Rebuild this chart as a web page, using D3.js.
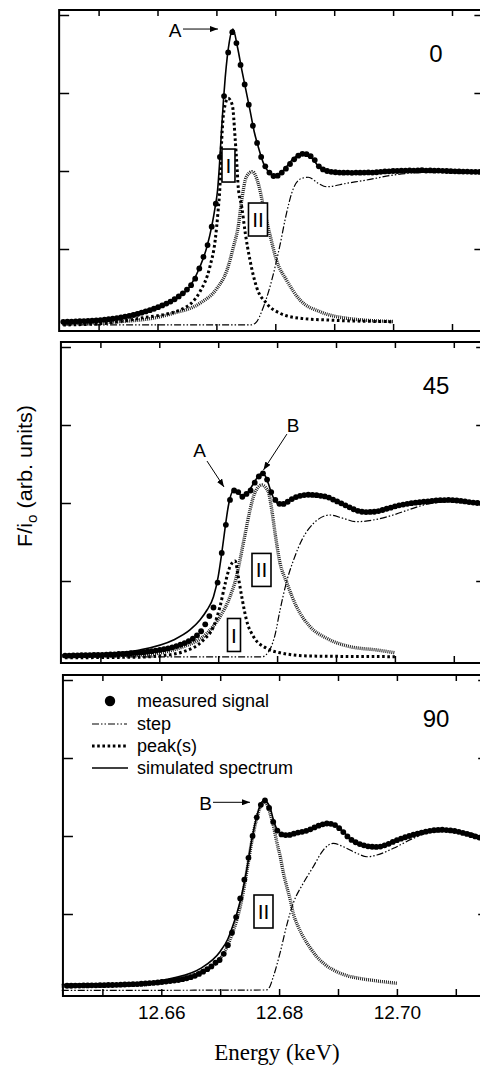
<!DOCTYPE html>
<html><head><meta charset="utf-8">
<script src="https://cdn.jsdelivr.net/npm/d3@7"></script>
<style>body{margin:0;background:#fff}svg{display:block}</style>
</head><body>
<svg id="chart" width="480" height="1065"></svg>
<script>
// ---------------- DATA ----------------
const energyStart = 12.644, energyStep = 0.0007;   // measured sampling grid (keV)
const xTickValues = [12.65, 12.66, 12.67, 12.68, 12.69, 12.70, 12.71];
const xTickLabels = [12.66, 12.68, 12.70];
const yTickValues = [0.5, 1.0, 1.5, 2.0];
const angleLabels = ["0", "45", "90"];
const legendLabels = ["measured signal", "step", "peak(s)", "simulated spectrum"];

const measured0 = [0.033,0.034,0.035,0.036,0.037,0.038,0.039,0.040,0.042,0.044,
 0.047,0.050,0.053,0.057,0.061,0.066,0.071,0.077,0.084,0.092,
 0.100,0.108,0.117,0.127,0.138,0.150,0.163,0.178,0.196,0.216,
 0.240,0.268,0.31,0.375,0.45,0.525,0.643,0.79,1.09,1.48,
 1.76,1.89,1.82,1.68,1.555,1.425,1.29,1.18,1.09,1.03,
 0.99,0.968,0.97,0.99,1.015,1.045,1.075,1.098,1.11,1.108,
 1.095,1.07,1.03,1.01,1.0,0.995,0.992,0.99,0.989,0.99,
 0.988,0.99,0.989,0.99,0.991,0.99,0.992,0.995,0.997,0.998,
 1.0,1.0,1.002,1.003,1.004,1.003,1.004,1.005,1.003,1.004,
 1.002,1.003,1.001,1.0,0.999,0.998,0.997,0.996,0.996,0.995,
 0.995,0.994,0.995];
const measured45 = [0.022,0.022,0.023,0.023,0.024,0.024,0.025,0.026,0.026,0.027,
 0.028,0.029,0.030,0.032,0.033,0.035,0.037,0.039,0.041,0.044,
 0.047,0.050,0.054,0.058,0.063,0.068,0.075,0.083,0.092,0.102,
 0.115,0.13,0.152,0.178,0.222,0.275,0.33,0.49,0.68,0.86,
 1.02,1.08,1.07,1.04,1.058,1.08,1.13,1.17,1.19,1.15,
 1.07,1.02,0.995,0.994,1.008,1.025,1.038,1.046,1.051,1.053,
 1.052,1.05,1.046,1.042,1.035,1.022,1.01,0.998,0.985,0.972,
 0.96,0.95,0.944,0.942,0.943,0.944,0.948,0.955,0.963,0.97,
 0.978,0.985,0.99,0.995,0.999,1.002,1.005,1.008,1.01,1.013,
 1.016,1.018,1.019,1.02,1.018,1.016,1.013,1.01,1.006,1.003,
 1.0,0.997,0.994];
const measured90 = [0.040,0.040,0.041,0.041,0.042,0.042,0.043,0.043,0.044,0.044,
 0.045,0.045,0.046,0.047,0.048,0.049,0.050,0.051,0.053,0.055,
 0.057,0.059,0.061,0.064,0.067,0.070,0.073,0.077,0.082,0.088,
 0.095,0.104,0.116,0.13,0.146,0.164,0.188,0.205,0.245,0.30,
 0.38,0.48,0.60,0.72,0.86,1.0,1.12,1.2,1.228,1.18,
 1.09,1.035,1.01,1.006,1.007,1.015,1.022,1.027,1.033,1.043,
 1.055,1.066,1.075,1.08,1.078,1.07,1.05,1.025,0.997,0.975,
 0.96,0.948,0.94,0.934,0.931,0.93,0.932,0.94,0.95,0.962,
 0.973,0.983,0.992,1.0,1.008,1.015,1.022,1.028,1.033,1.037,
 1.039,1.04,1.038,1.036,1.032,1.027,1.02,1.013,1.005,0.997,
 0.99,0.984,0.978];

// simulated spectra [energy, value]
const sim0 = [[12.6440,0.034],[12.6502,0.045],[12.6570,0.098],[12.6626,0.175],[12.6655,0.26],[12.6672,0.385],[12.6684,0.515],[12.6692,0.643],[12.6698,0.771],[12.6702,0.878],[12.6705,1.028],[12.6708,1.218],[12.6712,1.455],[12.6715,1.6],[12.6722,1.83],[12.6728,1.91],[12.6736,1.79],[12.6743,1.65],[12.6750,1.52],[12.6757,1.39],[12.6764,1.255],[12.6771,1.156],[12.6780,1.049],[12.6788,0.996],[12.6800,0.963],[12.6814,1.006],[12.6831,1.081],[12.6848,1.113],[12.6865,1.071],[12.6876,1.017],[12.6893,0.996],[12.6927,0.99],[12.6956,0.989],[12.7012,1.0],[12.7068,1.003],[12.7154,0.996]];
const sim45 = [[12.6435,0.026],[12.6499,0.032],[12.6567,0.058],[12.6624,0.122],[12.6652,0.186],[12.6669,0.25],[12.6681,0.314],[12.6692,0.399],[12.6700,0.528],[12.6706,0.678],[12.6712,0.848],[12.6717,0.976],[12.6720,1.03],[12.6727,1.083],[12.6734,1.071],[12.6740,1.04],[12.6746,1.061],[12.6751,1.072],[12.6760,1.126],[12.6767,1.167],[12.6774,1.19],[12.6780,1.173],[12.6785,1.126],[12.6791,1.058],[12.6796,1.019],[12.6803,0.994],[12.6811,0.994],[12.6819,1.01],[12.6828,1.03],[12.6845,1.051],[12.6864,1.051],[12.6884,1.04],[12.6898,1.019],[12.6912,0.994],[12.6927,0.968],[12.6941,0.944],[12.6958,0.944],[12.6969,0.944],[12.6986,0.966],[12.7009,0.984],[12.7031,0.998],[12.7054,1.008],[12.7077,1.019],[12.7094,1.019],[12.7119,1.01],[12.7154,0.994]];
const sim90 = [[12.6431,0.048],[12.6496,0.051],[12.6564,0.058],[12.6620,0.09],[12.6666,0.15],[12.6700,0.26],[12.6713,0.34],[12.6720,0.41],[12.6728,0.50],[12.6737,0.63],[12.6745,0.782],[12.67535,0.974],[12.6762,1.124],[12.6771,1.22],[12.6775,1.228],[12.6780,1.215],[12.6785,1.179],[12.6790,1.109],[12.6796,1.045],[12.6802,1.019],[12.6813,1.006],[12.6827,1.017],[12.6841,1.028],[12.6861,1.061],[12.6881,1.081],[12.6898,1.064],[12.6909,1.028],[12.6920,0.985],[12.6932,0.958],[12.6943,0.942],[12.6966,0.931],[12.6980,0.946],[12.6994,0.963],[12.7010,0.984],[12.7028,1.006],[12.7048,1.026],[12.7068,1.038],[12.7087,1.038],[12.7107,1.028],[12.7124,1.01],[12.7148,0.981]];

// fitted peaks
const peakI0 = [[12.6440,0.013],[12.6500,0.02],[12.6570,0.056],[12.6638,0.109],[12.6672,0.226],[12.6689,0.387],[12.6698,0.558],[12.6703,0.75],[12.6706,0.9],[12.6709,1.199],[12.6713,1.391],[12.6720,1.466],[12.6727,1.423],[12.6732,1.199],[12.6735,1.028],[12.6737,0.9],[12.6743,0.771],[12.6749,0.603],[12.6757,0.429],[12.6768,0.258],[12.6785,0.152],[12.6808,0.088],[12.6842,0.056],[12.6887,0.045],[12.7000,0.034]];
const peakII0 = [[12.6440,0.02],[12.6570,0.045],[12.6627,0.088],[12.6672,0.152],[12.6701,0.248],[12.6718,0.365],[12.6729,0.515],[12.6737,0.643],[12.6743,0.814],[12.6751,0.963],[12.6761,0.996],[12.6771,0.921],[12.6780,0.771],[12.6791,0.59],[12.6802,0.429],[12.6819,0.301],[12.6842,0.173],[12.6876,0.098],[12.6921,0.056],[12.7000,0.035]];
const peakI45 = [[12.6440,0.008],[12.6567,0.012],[12.6596,0.018],[12.6641,0.047],[12.6675,0.122],[12.6692,0.207],[12.6703,0.335],[12.6712,0.485],[12.6720,0.592],[12.6729,0.628],[12.6734,0.528],[12.6740,0.399],[12.6748,0.25],[12.6760,0.143],[12.6782,0.069],[12.6805,0.04],[12.6856,0.019],[12.7000,0.015]];
const peakII45 = [[12.6440,0.019],[12.6567,0.026],[12.6641,0.079],[12.6681,0.165],[12.6703,0.271],[12.6720,0.399],[12.6731,0.528],[12.6737,0.635],[12.6746,0.806],[12.6754,0.955],[12.6763,1.072],[12.6774,1.115],[12.6785,1.072],[12.6791,0.955],[12.6797,0.795],[12.6805,0.615],[12.6816,0.494],[12.6833,0.335],[12.6856,0.207],[12.6884,0.133],[12.6924,0.079],[12.6969,0.058],[12.7000,0.04]];
const peakII90 = [[12.6431,0.038],[12.6564,0.045],[12.6620,0.077],[12.6666,0.128],[12.6700,0.215],[12.6713,0.30],[12.6720,0.37],[12.6728,0.46],[12.6737,0.60],[12.6745,0.769],[12.67535,0.962],[12.6762,1.112],[12.6771,1.208],[12.6775,1.218],[12.6780,1.199],[12.6785,1.141],[12.6790,1.071],[12.6796,0.962],[12.6802,0.867],[12.6807,0.769],[12.6813,0.675],[12.6819,0.59],[12.6824,0.504],[12.6832,0.423],[12.6841,0.354],[12.6853,0.282],[12.6864,0.226],[12.6878,0.176],[12.6898,0.13],[12.6917,0.103],[12.6937,0.087],[12.6966,0.071],[12.7000,0.056]];

// edge steps
const step0 = [[12.6438,0.013],[12.6757,0.013],[12.6766,0.024],[12.6780,0.13],[12.6797,0.344],[12.6808,0.526],[12.6819,0.729],[12.6831,0.891],[12.6845,0.953],[12.6856,0.96],[12.6873,0.921],[12.6887,0.899],[12.6921,0.921],[12.6955,0.942],[12.7000,0.974],[12.7046,0.99],[12.7154,0.996]];
const step45 = [[12.6435,0.013],[12.6774,0.013],[12.6781,0.026],[12.6790,0.079],[12.6796,0.147],[12.6805,0.314],[12.6816,0.494],[12.6828,0.635],[12.6842,0.763],[12.6862,0.87],[12.6890,0.923],[12.6912,0.902],[12.6935,0.88],[12.6963,0.891],[12.6997,0.923],[12.7026,0.96],[12.7054,0.992],[12.7094,1.008],[12.7151,0.998]];
const step90 = [[12.6431,0.01],[12.6778,0.013],[12.6783,0.026],[12.6790,0.096],[12.6802,0.256],[12.6813,0.429],[12.6824,0.569],[12.6841,0.697],[12.6858,0.803],[12.6875,0.91],[12.6892,0.953],[12.6909,0.931],[12.6932,0.889],[12.6949,0.867],[12.6966,0.878],[12.6994,0.921],[12.7028,0.985],[12.7062,1.028],[12.7107,1.028],[12.7148,0.99]];

// annotations: label, text position [E, v], arrow from [E,v] to [E,v]
const arrows0 = [{t:"A", at:[12.66297,1.859], from:[12.66433,1.91], to:[12.67027,1.91]}];
const arrows45 = [{t:"A", at:[12.66683,1.295], from:[12.6681,1.269], to:[12.67098,1.103]},
                  {t:"B", at:[12.6827,1.455], from:[12.68167,1.442], to:[12.67769,1.212]}];
const arrows90 = [{t:"B", at:[12.6675,1.167], from:[12.66878,1.216], to:[12.67506,1.216]}];
// peak identifier boxes: [label, E, v]
const boxes0 = [["I",12.67205,1.035],["II",12.67706,0.689]];
const boxes45 = [["II",12.67735,0.571],["I",12.67268,0.154]];
const boxes90 = [["II",12.67735,0.516]];

// ---------------- LAYOUT ----------------
const svg = d3.select("#chart");
const FONT = "'Liberation Sans', Arial, Helvetica, sans-serif";
const defs = svg.append("defs");
defs.append("marker").attr("id","ah").attr("viewBox","0 0 8 6").attr("refX",8).attr("refY",3)
  .attr("markerWidth",8).attr("markerHeight",6).attr("markerUnits","userSpaceOnUse").attr("orient","auto")
  .append("path").attr("d","M0,0L8,3L0,6Z").attr("fill","#000");

const panelTops = [10, 342, 675];
const tick1266 = [157.5, 159.3, 161.3];
const pxPerKeV = 5890;
const xDomain = [12.6433, 12.7155];
const H = 321;

const styles = {
  step: {w:1.2, dash:"7,2,1.5,2,1.5,2"},
  heavy: {w:3, dash:"2.6,2.6"},
  fine: {w:3.4, dash:"1,1"}
};

const panels = [
  {meas:measured0, sim:sim0, step:step0, peaks:[[peakII0,"fine"],[peakI0,"heavy"]], arrows:arrows0, boxes:boxes0},
  {meas:measured45, sim:sim45, step:step45, peaks:[[peakII45,"fine"],[peakI45,"heavy"]], arrows:arrows45, boxes:boxes45},
  {meas:measured90, sim:sim90, step:step90, peaks:[[peakII90,"fine"]], arrows:arrows90, boxes:boxes90}
];

panels.forEach((p, i) => {
  const top = panelTops[i];
  const x = d3.scaleLinear().domain(xDomain)
    .range([tick1266[i] - (12.66 - xDomain[0]) * pxPerKeV, tick1266[i] + (xDomain[1] - 12.66) * pxPerKeV]);
  const y = d3.scaleLinear().domain([0, 2]).range([top + 317, top + 5]);
  const g = svg.append("g");
  const line = d3.line().x(d => x(d[0])).y(d => y(d[1])).curve(d3.curveMonotoneX);

  // step
  g.append("path").datum(p.step).attr("d", line).attr("fill","none").attr("stroke","#000")
    .attr("stroke-width", styles.step.w).attr("stroke-dasharray", styles.step.dash);
  // peaks
  p.peaks.forEach(([d, s]) => {
    g.append("path").datum(d).attr("d", line).attr("fill","none").attr("stroke", s === "fine" ? "#222" : "#000")
      .attr("stroke-width", styles[s].w).attr("stroke-dasharray", styles[s].dash);
  });
  // simulated
  g.append("path").datum(p.sim).attr("d", line).attr("fill","none").attr("stroke","#000").attr("stroke-width",1.6);
  // measured
  g.append("g").selectAll("circle").data(p.meas).join("circle")
    .attr("cx", (d, k) => x(energyStart + k * energyStep)).attr("cy", d => y(d)).attr("r", 2.9).attr("fill","#000");

  // boxes
  p.boxes.forEach(([t, e, v]) => {
    const w = t === "I" ? 13 : 19, h = 33;
    g.append("rect").attr("x", x(e) - w/2).attr("y", y(v) - h/2).attr("width", w).attr("height", h)
      .attr("fill","#fff").attr("stroke","#000").attr("stroke-width",1.6);
    g.append("text").attr("x", x(e)).attr("y", y(v)).attr("dy","0.36em").attr("text-anchor","middle")
      .attr("font-family", FONT).attr("font-size", 21).text(t);
  });

  // arrows
  p.arrows.forEach(a => {
    g.append("line").attr("x1", x(a.from[0])).attr("y1", y(a.from[1])).attr("x2", x(a.to[0])).attr("y2", y(a.to[1]))
      .attr("stroke","#000").attr("stroke-width",1).attr("marker-end","url(#ah)");
    g.append("text").attr("x", x(a.at[0])).attr("y", y(a.at[1])).attr("text-anchor","middle")
      .attr("font-family", FONT).attr("font-size", 19).text(a.t);
  });

  // angle label
  g.append("text").attr("x", 436).attr("y", top + 52).attr("text-anchor","middle")
    .attr("font-family", FONT).attr("font-size", 24).text(angleLabels[i]);

  // axes (inward ticks)
  const x0 = x.range()[0], x1 = x.range()[1];
  const styleAxis = sel => { sel.select(".domain").remove(); sel.selectAll(".tick line").attr("stroke","#000").attr("stroke-width",1.5); };
  g.append("g").attr("transform",`translate(0,${top})`)
    .call(d3.axisTop(x).tickValues(xTickValues).tickSize(-6).tickFormat("")).call(styleAxis);
  const bottomAxis = g.append("g").attr("transform",`translate(0,${top + H})`)
    .call(d3.axisBottom(x).tickValues(xTickValues).tickSize(-7).tickPadding(10)
      .tickFormat(d => (i === 2 && xTickLabels.some(l => Math.abs(l - d) < 1e-9)) ? d.toFixed(2) : ""))
    .call(styleAxis);
  bottomAxis.selectAll("text").attr("font-family", FONT).attr("font-size", 19).attr("fill","#000");
  g.append("g").attr("transform",`translate(${x0},0)`)
    .call(d3.axisLeft(y).tickValues(yTickValues).tickSize(-10).tickFormat("")).call(styleAxis);
  g.append("g").attr("transform",`translate(${x1},0)`)
    .call(d3.axisRight(y).tickValues(yTickValues).tickSize(-10).tickFormat("")).call(styleAxis);

  // frame
  g.append("rect").attr("x", x0).attr("y", top).attr("width", x1 - x0).attr("height", H)
    .attr("fill","none").attr("stroke","#000").attr("stroke-width",2);

  // legend in last panel
  if (i === 2) {
    const lg = g.append("g").attr("font-family", FONT).attr("font-size", 18);
    const rows = [top + 26, top + 49, top + 71, top + 93];
    lg.append("circle").attr("cx",110).attr("cy",rows[0]).attr("r",5.2).attr("fill","#000");
    lg.append("line").attr("x1",92).attr("x2",127).attr("y1",rows[1]).attr("y2",rows[1])
      .attr("stroke","#000").attr("stroke-width",1.2).attr("stroke-dasharray", styles.step.dash);
    lg.append("line").attr("x1",92).attr("x2",128).attr("y1",rows[2]).attr("y2",rows[2])
      .attr("stroke","#000").attr("stroke-width",3).attr("stroke-dasharray", styles.heavy.dash);
    lg.append("line").attr("x1",92).attr("x2",128).attr("y1",rows[3]).attr("y2",rows[3])
      .attr("stroke","#000").attr("stroke-width",1.6);
    legendLabels.forEach((t, k) => lg.append("text").attr("x",137).attr("y",rows[k]).attr("dy","0.35em").text(t));
  }
});

// axis titles
svg.append("text").attr("x", 277).attr("y", 1060).attr("text-anchor","middle")
  .attr("font-family","'Liberation Serif', 'Times New Roman', serif").attr("font-size", 23).text("Energy (keV)");
const yl = svg.append("text").attr("transform","translate(32,476) rotate(-90)").attr("text-anchor","middle")
  .attr("font-family", FONT).attr("font-size", 20).attr("textLength", 142).attr("lengthAdjust","spacingAndGlyphs");
yl.append("tspan").text("F/i");
yl.append("tspan").attr("font-size", 14).attr("dy", 5).text("o");
yl.append("tspan").attr("dy", -5).text(" (arb. units)");
</script>
</body></html>
